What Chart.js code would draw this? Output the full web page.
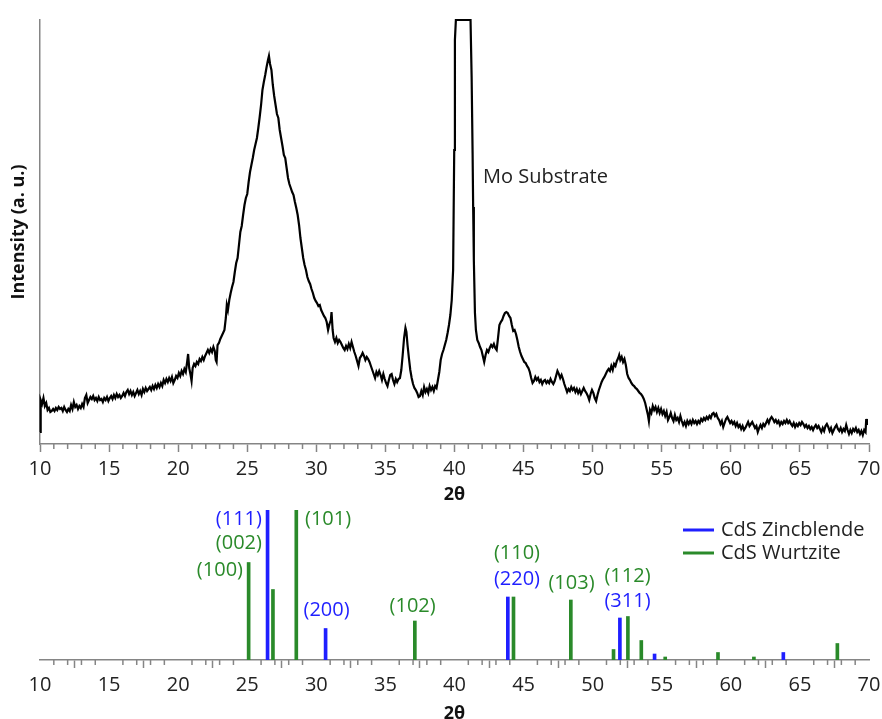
<!DOCTYPE html>
<html>
<head>
<meta charset="utf-8">
<script src="https://cdn.jsdelivr.net/npm/chart.js@4.4.1/dist/chart.umd.min.js"></script>
<style>
html,body{margin:0;padding:0;background:#fff;overflow:hidden;}
#wrap{position:relative;width:882px;height:719px;overflow:hidden;}
#c1{position:absolute;left:0;top:0;}
#c2{position:absolute;left:0;top:505px;}
</style>
</head>
<body>
<div id="wrap">
<canvas id="c1" width="882" height="505"></canvas>
<canvas id="c2" width="882" height="218"></canvas>
</div>
<script>
// ---- XRD scan (2θ, intensity a.u.) ----
const scanPoints = [
[10.00,12],[10.05,44],[10.15,40],[10.25,46],[10.35,38],[10.45,41],[10.55,34],[10.65,36],[10.75,32],[10.85,33],
[10.95,35],[11.05,33],[11.15,36],[11.25,34],[11.35,37],[11.45,35],[11.55,36],[11.65,33],[11.75,37],[11.85,34],
[11.95,32],[12.05,35],[12.15,33],[12.25,39],[12.35,35],[12.45,42],[12.55,37],[12.65,39],[12.75,35],[12.85,38],
[12.95,36],[13.05,40],[13.15,37],[13.25,46],[13.35,49],[13.45,41],[13.55,44],[13.65,47],[13.75,45],[13.85,48],
[13.95,44],[14.05,46],[14.15,43],[14.25,47],[14.35,44],[14.45,45],[14.55,42],[14.65,46],[14.75,44],[14.85,47],
[14.95,43],[15.05,46],[15.15,48],[15.25,45],[15.35,49],[15.45,46],[15.55,50],[15.65,47],[15.75,49],[15.85,46],
[15.95,48],[16.05,51],[16.15,48],[16.25,52],[16.35,54],[16.45,50],[16.55,53],[16.65,49],[16.75,52],[16.85,48],
[16.95,51],[17.05,54],[17.15,50],[17.25,53],[17.35,49],[17.45,55],[17.55,52],[17.65,56],[17.75,53],[17.85,55],
[17.95,57],[18.05,54],[18.15,58],[18.25,55],[18.35,59],[18.45,56],[18.55,60],[18.65,57],[18.75,61],[18.85,58],
[18.95,64],[19.05,61],[19.15,65],[19.25,62],[19.35,66],[19.45,63],[19.55,67],[19.65,61],[19.75,64],[19.85,68],
[19.95,66],[20.05,71],[20.15,68],[20.25,73],[20.35,70],[20.45,75],[20.55,72],[20.65,82],[20.72,90],[20.80,76],
[20.90,69],[20.97,63],[21.05,76],[21.15,80],[21.25,78],[21.35,82],[21.45,80],[21.55,85],[21.65,83],[21.75,87],
[21.85,84],[21.95,88],[22.05,91],[22.15,94],[22.25,91],[22.35,95],[22.45,92],[22.55,97],[22.65,93],[22.72,84],
[22.78,82],[22.85,99],[22.95,101],[23.05,105],[23.15,108],[23.25,111],[23.35,114],[23.45,126],[23.52,139],[23.60,134],
[23.70,144],[23.80,151],[23.90,157],[24.00,162],[24.10,172],[24.20,181],[24.30,186],[24.40,199],[24.50,212],[24.60,218],
[24.70,229],[24.80,239],[24.90,246],[25.00,250],[25.10,262],[25.20,272],[25.30,279],[25.40,286],[25.50,294],[25.60,300],
[25.70,306],[25.80,316],[25.90,327],[26.00,339],[26.10,354],[26.20,362],[26.30,369],[26.40,377],[26.50,384],[26.57,388],
[26.65,380],[26.75,374],[26.85,359],[26.95,348],[27.05,339],[27.15,330],[27.25,326],[27.35,314],[27.45,306],[27.55,298],
[27.65,289],[27.75,286],[27.85,276],[27.95,266],[28.05,260],[28.15,256],[28.25,252],[28.35,249],[28.45,242],[28.55,236],
[28.65,229],[28.75,219],[28.85,206],[28.95,196],[29.05,186],[29.15,179],[29.25,174],[29.35,167],[29.45,163],[29.55,160],
[29.65,155],[29.75,151],[29.85,146],[29.95,143],[30.05,141],[30.15,138],[30.25,139],[30.35,134],[30.45,131],[30.55,128],
[30.65,126],[30.75,122],[30.85,114],[30.95,120],[31.05,124],[31.10,132],[31.18,114],[31.25,106],[31.35,102],[31.45,106],
[31.55,101],[31.65,104],[31.75,102],[31.85,99],[31.95,96],[32.05,94],[32.15,98],[32.25,95],[32.35,100],[32.45,96],
[32.55,102],[32.65,97],[32.75,92],[32.85,88],[32.95,83],[33.05,78],[33.15,86],[33.25,88],[33.35,91],[33.45,88],
[33.55,84],[33.65,87],[33.75,85],[33.85,82],[33.95,78],[34.05,74],[34.15,70],[34.25,66],[34.35,72],[34.45,69],
[34.55,73],[34.65,69],[34.75,64],[34.85,70],[34.95,65],[35.05,61],[35.15,58],[35.25,64],[35.35,69],[35.45,70],
[35.55,64],[35.65,60],[35.75,65],[35.85,62],[35.95,65],[36.05,66],[36.15,74],[36.25,89],[36.35,106],[36.45,116],
[36.52,112],[36.60,99],[36.70,86],[36.80,74],[36.90,66],[37.00,60],[37.10,56],[37.20,54],[37.30,51],[37.40,47],
[37.50,48],[37.60,53],[37.70,49],[37.80,57],[37.90,52],[38.00,55],[38.10,51],[38.20,58],[38.30,54],[38.40,57],
[38.50,53],[38.60,58],[38.70,56],[38.80,64],[38.90,72],[39.00,84],[39.10,90],[39.20,94],[39.30,99],[39.40,104],
[39.50,111],[39.60,119],[39.70,129],[39.80,144],[39.90,174],[39.98,294],[40.03,404],[40.10,424],[41.16,424],[41.24,367],
[41.31,291],[41.35,237],[41.40,184],[41.48,131],[41.55,114],[41.65,104],[41.75,101],[41.85,97],[41.95,94],[42.05,88],
[42.15,82],[42.25,89],[42.35,94],[42.45,92],[42.55,96],[42.65,99],[42.75,97],[42.85,100],[42.95,96],[43.05,94],
[43.15,106],[43.25,119],[43.35,122],[43.45,124],[43.55,128],[43.65,131],[43.75,132],[43.85,131],[43.95,128],[44.05,126],
[44.15,119],[44.25,113],[44.35,114],[44.45,110],[44.55,104],[44.65,97],[44.75,92],[44.85,88],[44.95,85],[45.05,82],
[45.15,81],[45.25,78],[45.35,76],[45.45,72],[45.55,66],[45.65,61],[45.75,63],[45.85,67],[45.95,64],[46.05,66],
[46.15,62],[46.25,64],[46.35,60],[46.45,63],[46.55,64],[46.65,61],[46.75,63],[46.85,61],[46.95,65],[47.05,62],
[47.15,60],[47.25,63],[47.35,68],[47.45,73],[47.55,70],[47.65,66],[47.75,69],[47.85,65],[47.95,60],[48.05,56],
[48.15,52],[48.25,55],[48.35,53],[48.45,57],[48.55,54],[48.65,56],[48.75,52],[48.85,55],[48.95,51],[49.05,54],
[49.15,50],[49.25,53],[49.35,56],[49.45,53],[49.55,51],[49.65,48],[49.75,44],[49.85,50],[49.95,54],[50.05,51],
[50.15,46],[50.25,43],[50.35,49],[50.45,54],[50.55,58],[50.65,62],[50.75,65],[50.85,67],[50.95,70],[51.05,73],
[51.15,75],[51.25,73],[51.35,78],[51.45,74],[51.55,80],[51.65,78],[51.75,83],[51.85,86],[51.92,89],[52.00,84],
[52.10,87],[52.20,82],[52.30,85],[52.40,79],[52.50,70],[52.60,66],[52.70,64],[52.80,61],[52.90,59],[53.00,58],
[53.10,56],[53.20,55],[53.30,53],[53.40,51],[53.50,50],[53.60,48],[53.70,45],[53.80,41],[53.90,35],[54.00,29],
[54.07,23],[54.15,34],[54.25,31],[54.35,38],[54.45,34],[54.55,37],[54.65,32],[54.75,36],[54.85,31],[54.95,35],
[55.05,30],[55.15,33],[55.25,28],[55.35,32],[55.45,24],[55.55,27],[55.65,31],[55.75,26],[55.85,23],[55.95,29],
[56.05,24],[56.15,26],[56.25,22],[56.35,28],[56.45,23],[56.55,19],[56.65,22],[56.75,18],[56.85,23],[56.95,20],
[57.05,23],[57.15,20],[57.25,24],[57.35,21],[57.45,23],[57.55,20],[57.65,23],[57.75,21],[57.85,25],[57.95,23],
[58.05,26],[58.15,24],[58.25,27],[58.35,25],[58.45,28],[58.55,26],[58.65,30],[58.75,31],[58.85,28],[58.95,30],
[59.05,26],[59.15,24],[59.25,20],[59.35,23],[59.45,17],[59.55,21],[59.65,25],[59.75,27],[59.85,24],[59.95,21],
[60.05,23],[60.15,20],[60.25,22],[60.35,18],[60.45,21],[60.55,17],[60.65,19],[60.75,15],[60.85,18],[60.95,14],
[61.05,16],[61.15,19],[61.25,22],[61.35,18],[61.45,20],[61.55,22],[61.65,19],[61.75,16],[61.85,18],[61.95,12],
[62.05,16],[62.15,19],[62.25,16],[62.35,20],[62.45,18],[62.55,21],[62.65,24],[62.75,21],[62.85,25],[62.95,27],
[63.05,25],[63.15,22],[63.25,24],[63.35,21],[63.45,23],[63.55,19],[63.65,22],[63.75,20],[63.85,23],[63.95,21],
[64.05,24],[64.15,21],[64.25,23],[64.35,20],[64.45,18],[64.55,21],[64.65,17],[64.75,20],[64.85,18],[64.95,21],
[65.05,19],[65.15,22],[65.25,20],[65.35,17],[65.45,19],[65.55,16],[65.65,18],[65.75,15],[65.85,17],[65.95,14],
[66.05,17],[66.15,19],[66.25,16],[66.35,18],[66.45,15],[66.55,12],[66.65,16],[66.75,13],[66.85,18],[66.95,20],
[67.05,17],[67.15,13],[67.25,16],[67.35,11],[67.45,14],[67.55,17],[67.65,19],[67.75,15],[67.85,13],[67.95,16],
[68.05,12],[68.15,15],[68.25,13],[68.35,19],[68.45,14],[68.55,10],[68.65,14],[68.75,11],[68.85,15],[68.95,13],
[69.05,16],[69.15,12],[69.25,14],[69.35,10],[69.45,13],[69.55,9],[69.65,14],[69.75,12],[69.80,25],[69.85,19]
];
const substrateLabel = {text: 'Mo Substrate', x: 42.06, y: 267};

// ---- Reference patterns ----
const zincblendePos = [26.47, 30.67, 43.86, 51.97, 54.48, 63.80];
const zincblendeInt = [100, 21, 42, 28, 4, 5];
const wurtzitePos = [25.10, 26.86, 28.55, 37.13, 44.27, 48.42, 51.51, 52.55, 53.52, 55.25, 59.07, 61.67, 67.71];
const wurtziteInt = [65, 47, 100, 26, 42, 40, 7, 29, 13, 2, 5, 2, 11];

// ---- hkl labels ----
const hklText  = ['(111)','(002)','(100)','(101)','(200)','(102)','(110)','(220)','(103)','(112)','(311)'];
const hklPhase = ['Z','W','W','W','Z','W','W','Z','W','W','Z'];
const hklX     = [26.06, 26.06, 24.69, 29.18, 30.74, 36.97, 44.52, 44.52, 48.47, 52.52, 52.52];
const hklY     = [94, 78, 60, 94, 33, 36, 71, 54, 51, 56, 39];
const hklAlign = ['right','right','right','left','center','center','center','center','center','center','center'];

const xTicks = [10, 15, 20, 25, 30, 35, 40, 45, 50, 55, 60, 65, 70];
const seriesNames = ['CdS Zincblende', 'CdS Wurtzite'];

const BLUE = '#1f1fff';
const GREEN = '#2a8a2a';
const AXIS = '#858585';
const FONT = "'Open Sans', 'DejaVu Sans', sans-serif";

const minorTicks = {
  id: 'minorTicks',
  afterDraw(chart) {
    const s = chart.scales.x;
    const ctx = chart.ctx;
    ctx.save();
    ctx.strokeStyle = AXIS;
    ctx.lineWidth = 1.5;
    for (let v = xTicks[0]; v <= xTicks[xTicks.length - 1]; v++) {
      if (xTicks.includes(v)) continue;
      const px = s.getPixelForValue(v);
      ctx.beginPath();
      ctx.moveTo(px, s.top);
      ctx.lineTo(px, s.top + 5);
      ctx.stroke();
    }
    ctx.restore();
  }
};

function xScale(axisHeight, titlePadBottom) {
  return {
    type: 'linear', min: 10, max: 70, offset: false,
    afterBuildTicks: (sc) => { sc.ticks = xTicks.map(v => ({value: v})); },
    afterFit: (s) => { s.height = axisHeight; s.paddingLeft = 0; s.paddingRight = 0; },
    ticks: {color: '#222', font: {family: FONT, size: 20}, padding: 5, maxRotation: 0, autoSkip: false},
    grid: {drawOnChartArea: false, tickLength: 8, color: AXIS, tickWidth: 1.5},
    border: {display: true, color: AXIS, width: 1.5},
    title: {display: true, text: '2θ', color: '#111', font: {family: FONT, size: 18, weight: 'bold', lineHeight: 1}, padding: {top: 0, bottom: titlePadBottom}}
  };
}

function build() {
  // ---- top chart ----
  const substratePlugin = {
    id: 'substrate',
    afterDatasetsDraw(chart) {
      const {ctx, scales} = chart;
      ctx.save();
      ctx.fillStyle = '#222';
      ctx.font = `20px ${FONT}`;
      ctx.textAlign = 'left';
      ctx.textBaseline = 'middle';
      ctx.fillText(substrateLabel.text, scales.x.getPixelForValue(substrateLabel.x), scales.y.getPixelForValue(substrateLabel.y));
      ctx.restore();
    }
  };
  new Chart(document.getElementById('c1'), {
    type: 'line',
    data: {
      datasets: [{
        data: scanPoints.map(p => ({x: p[0], y: p[1]})),
        borderColor: '#000', borderWidth: 2.2, pointRadius: 0, tension: 0, fill: false, clip: 4
      }]
    },
    options: {
      responsive: false, animation: false, events: [],
      layout: {padding: {top: 20, right: 13, left: 0, bottom: 0}},
      plugins: {legend: {display: false}, tooltip: {enabled: false}},
      scales: {
        x: xScale(61, 1),
        y: {
          type: 'linear', min: 0, max: 424,
          ticks: {display: false},
          grid: {display: false, drawTicks: false},
          border: {display: true, color: AXIS, width: 1.5},
          title: {display: true, text: 'Intensity (a. u.)', color: '#111', font: {family: FONT, size: 18, weight: 'bold', lineHeight: 1}, padding: {top: 10, bottom: 0}},
          afterFit: (s) => { s.width = 40; }
        }
      }
    },
    plugins: [minorTicks, substratePlugin]
  });

  // ---- bottom chart ----
  const labelPlugin = {
    id: 'hkl',
    afterDatasetsDraw(chart) {
      const {ctx, scales, chartArea} = chart;
      ctx.save();
      ctx.font = `20px ${FONT}`;
      ctx.textBaseline = 'middle';
      hklText.forEach((t, i) => {
        ctx.fillStyle = hklPhase[i] === 'Z' ? BLUE : GREEN;
        ctx.textAlign = hklAlign[i];
        ctx.fillText(t, scales.x.getPixelForValue(hklX[i]), scales.y.getPixelForValue(hklY[i]));
      });
      // legend
      const lx = chartArea.right - 186, ly = chartArea.top + 20;
      [BLUE, GREEN].forEach((c, i) => {
        const y = ly + i * 23;
        ctx.strokeStyle = c; ctx.lineWidth = 3;
        ctx.beginPath(); ctx.moveTo(lx, y); ctx.lineTo(lx + 31, y); ctx.stroke();
        ctx.fillStyle = '#222'; ctx.textAlign = 'left';
        ctx.fillText(seriesNames[i], lx + 38, y);
      });
      ctx.restore();
    }
  };
  new Chart(document.getElementById('c2'), {
    type: 'bar',
    data: {
      datasets: [
        {label: seriesNames[0], data: zincblendePos.map((x, i) => ({x, y: zincblendeInt[i]})), backgroundColor: BLUE, barThickness: 3, grouped: false, borderWidth: 0},
        {label: seriesNames[1], data: wurtzitePos.map((x, i) => ({x, y: wurtziteInt[i]})), backgroundColor: GREEN, barThickness: 3, grouped: false, borderWidth: 0}
      ]
    },
    options: {
      responsive: false, animation: false, events: [],
      layout: {padding: {top: 5, right: 13, left: 40, bottom: 0}},
      plugins: {legend: {display: false}, tooltip: {enabled: false}},
      scales: {
        x: xScale(63, 0),
        y: {type: 'linear', min: 0, max: 100, display: false}
      }
    },
    plugins: [minorTicks, labelPlugin]
  });
}

if (document.fonts && document.fonts.load) {
  Promise.all([
    document.fonts.load("20px 'Open Sans'"),
    document.fonts.load("bold 18px 'Open Sans'")
  ]).then(build, build);
} else {
  build();
}
</script>
</body>
</html>
